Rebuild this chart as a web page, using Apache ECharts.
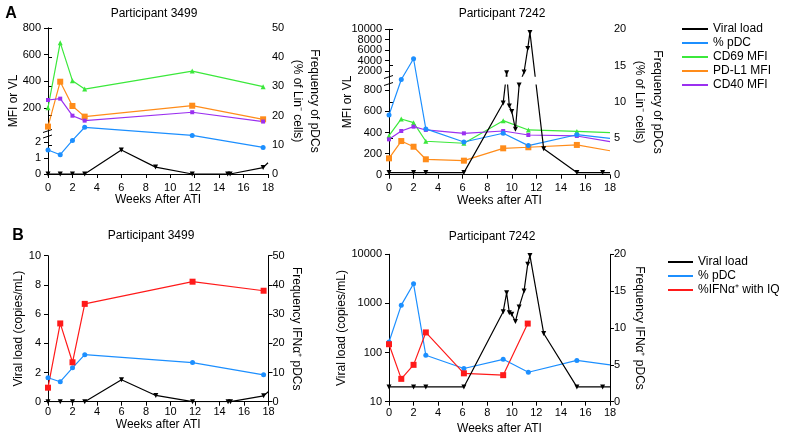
<!DOCTYPE html>
<html><head><meta charset="utf-8">
<script src="https://cdn.jsdelivr.net/npm/echarts@6/dist/echarts.min.js"></script>
<style>html,body{margin:0;padding:0;background:#fff}#c{width:793px;height:444px}</style>
</head><body><div id="c"></div>
<script>
// ---------- DATA ----------
// Panel A, participant 3499
const weeks3499 = [0, 1, 2, 3, 11.8, 17.6];
const pdcA3499 = [8.2, 6.6, 11.5, 16.0, 13.2, 9.1];
const cd69_3499 = [202, 690, 405, 342, 477, 360];
const pdl1_3499 = [60, 397, 215, 135, 217, 115];
const cd40_3499 = [260, 270, 142, 105, 168, 98];
const vlWeeks3499 = [0, 1, 2, 3, 6, 8.8, 11.8, 14.7, 14.9, 17.6, 18];
const vl3499 = [0, 0, 0, 0, 1.5, 0.43, 0, 0, 0, 0.4, 0.7];
// Panel A, participant 7242
const weeks7242 = [0, 1, 2, 3, 6.1, 9.3, 11.35, 15.3, 18];
const pdcA7242 = [8.2, 13.1, 15.95, 6.3, 4.5, 5.7, 4.0, 5.5, 5.0];
const cd69_7242 = [370, 528, 493, 317, 298, 512, 424, 410, 398];
const pdl1_7242 = [155, 319, 265, 146, 133, 250, 260, 282, 227];
const cd40_7242 = [335, 414, 455, 424, 392, 414, 376, 367, 313];
const vlWeeks7242 = [0, 2, 3, 6.1, 9.3, 9.58, 9.8, 10.0, 10.3, 10.6, 11.0, 11.3, 11.48, 12.6, 15.3, 17.4, 18];
const vl7242 = [20, 20, 20, 20, 680, 1650, 650, 600, 430, 850, 1800, 6300, 9400, 245, 20, 20, 20];
// Panel B
const pdcB3499 = [8.2, 6.85, 11.6, 16.1, 13.4, 9.2];
const ifn3499 = [4.8, 26.8, 13.5, 33.5, 41.1, 38.0];
const pdcB7242 = [8.1, 13.1, 16.0, 6.3, 4.5, 5.75, 4.0, 5.6, 5.0];
const weeksIfn7242 = [0, 1, 2, 3, 6.1, 9.3, 11.3];
const ifn7242 = [7.8, 3.1, 5.0, 9.4, 3.85, 3.6, 10.6];
// axis tick labels of the broken axes
const mfiUpperTicks3499 = [200, 400, 600, 800];
const vlLowerTicks3499 = [0, 1, 2];
const vlUpperTicks7242 = [2000, 4000, 6000, 8000, 10000];
const mfiLowerTicks7242 = [0, 200, 400, 600, 800];

// ---------- STYLE ----------
const FONT = '"Liberation Sans", Arial, Helvetica, sans-serif';
const C = {vl:'#000000', pdc:'#1c8fff', cd69:'#3be83b', pdl1:'#ff8c1a', cd40:'#9b30f0', ifn:'#ff1a1a'};
const pts = (xs, ys) => xs.map((x, i) => [x, ys[i]]);

const grids = [
  {left:48, top:28, width:220, height:101.3},   // 0 A3499 upper
  {left:48, top:138, width:220, height:36},     // 1 A3499 lower
  {left:48, top:28, width:220, height:146},     // 2 A3499 full
  {left:389, top:29.3, width:221, height:46.9}, // 3 A7242 upper
  {left:389, top:85, width:221, height:89.7},   // 4 A7242 lower
  {left:389, top:29.3, width:221, height:145.4},// 5 A7242 full
  {left:48, top:255.7, width:220.5, height:146},// 6 B3499
  {left:389, top:254.3, width:221, height:147.4}// 7 B7242
];

const axLine = {show:true, lineStyle:{color:'#000', width:1}};
const nameStyle = {fontSize:12, color:'#000', fontFamily:FONT};
const plain = (v) => String(v);
function xAx(g, show, name, nameGap, margin) {
  return {type:'value', gridIndex:g, min:0, max:18, interval:2, show:show,
    name:name||'', nameLocation:'middle', nameGap:nameGap||0, nameTextStyle:nameStyle,
    axisLine:axLine, axisTick:{show:true, length:4, lineStyle:{color:'#000'}},
    axisLabel:{fontSize:11, color:'#000', margin:margin||8, fontFamily:FONT},
    splitLine:{show:false}};
}
function yAx(g, pos, min, max, opts, custom) {
  const tick = {show:true, length:4, lineStyle:{color:'#000'}};
  const label = {fontSize:11, color:'#000', margin:pos==='left'?7:4, fontFamily:FONT, formatter:plain};
  if (custom) { tick.customValues = custom; label.show = false; }
  return Object.assign({type:'value', gridIndex:g, position:pos, min:min, max:max,
    axisLine:axLine, axisTick:tick, axisLabel:label,
    splitLine:{show:false}, nameLocation:'middle', nameTextStyle:nameStyle}, opts || {});
}

const xAxis = [
  xAx(0, false), xAx(1, false), xAx(2, true, 'Weeks After ATI', 19, 8),
  xAx(3, false), xAx(4, false), xAx(5, true, 'Weeks after ATI', 19, 8),
  xAx(6, true, 'Weeks after ATI', 13, 5), xAx(7, true, 'Weeks after ATI', 21, 6)
];
const yAxis = [
  yAx(0, 'left', 40, 800, null, mfiUpperTicks3499),
  yAx(1, 'left', 0, 2.25, null, vlLowerTicks3499),
  yAx(2, 'right', 0, 50, {interval:10, name:'Frequency of pDCs\n(% of Lin⁻ cells)', nameRotate:-90, nameGap:21, nameTextStyle:Object.assign({lineHeight:17}, nameStyle)}),
  yAx(3, 'left', 1000, 10000, null, vlUpperTicks7242),
  yAx(4, 'left', 0, 850, null, mfiLowerTicks7242),
  yAx(5, 'right', 0, 20, {interval:5, name:'Frequency of pDCs\n(% of Lin⁻ cells)', nameRotate:-90, nameGap:20, nameTextStyle:Object.assign({lineHeight:18}, nameStyle)}),
  yAx(6, 'left', 0, 10, {interval:2, name:'Viral load (copies/mL)', nameRotate:90, nameGap:22}),
  yAx(6, 'right', 0, 50, {interval:10, name:'Frequency IFNα⁺ pDCs', nameRotate:-90, nameGap:22}),
  yAx(7, 'left', 10, 10000, {type:'log', logBase:10, name:'Viral load (copies/mL)', nameRotate:90, nameGap:36}),
  yAx(7, 'right', 0, 20, {interval:5, name:'Frequency IFNα⁺ pDCs', nameRotate:-90, nameGap:23})
];

function ser(name, data, xi, yi, color, symbol, size, rotate, z) {
  return {type:'line', name:name, data:data, xAxisIndex:xi, yAxisIndex:yi,
    symbol:symbol, symbolSize:(v) => v[0] >= 18 ? 0 : size, symbolRotate:rotate || 0,
    lineStyle:{width:1.2, color:color}, itemStyle:{color:color}, color:color,
    animation:false, z:z || 2, emphasis:{disabled:true}};
}
const series = [
  // A 3499
  ser('CD69 MFI', pts(weeks3499, cd69_3499), 0, 0, C.cd69, 'triangle', 5),
  ser('PD-L1 MFI', pts(weeks3499, pdl1_3499), 0, 0, C.pdl1, 'rect', 6),
  ser('CD40 MFI', pts(weeks3499, cd40_3499), 0, 0, C.cd40, 'rect', 4),
  ser('% pDC', pts(weeks3499, pdcA3499), 2, 2, C.pdc, 'circle', 5),
  ser('Viral load', pts(vlWeeks3499, vl3499), 1, 1, C.vl, 'triangle', 5, 180, 3),
  // A 7242
  ser('CD69 MFI', pts(weeks7242, cd69_7242), 4, 4, C.cd69, 'triangle', 5),
  ser('PD-L1 MFI', pts(weeks7242, pdl1_7242), 4, 4, C.pdl1, 'rect', 6),
  ser('CD40 MFI', pts(weeks7242, cd40_7242), 4, 4, C.cd40, 'rect', 4),
  ser('% pDC', pts(weeks7242, pdcA7242), 5, 5, C.pdc, 'circle', 5),
  // B 3499
  ser('% pDC', pts(weeks3499, pdcB3499), 6, 7, C.pdc, 'circle', 5),
  ser('%IFNα⁺ with IQ', pts(weeks3499, ifn3499), 6, 7, C.ifn, 'rect', 6),
  ser('Viral load', pts(vlWeeks3499, vl3499), 6, 6, C.vl, 'triangle', 5, 180, 3),
  // B 7242
  ser('% pDC', pts(weeks7242, pdcB7242), 7, 9, C.pdc, 'circle', 5),
  ser('%IFNα⁺ with IQ', pts(weeksIfn7242, ifn7242), 7, 9, C.ifn, 'rect', 6),
  ser('Viral load', pts(vlWeeks7242, vl7242), 7, 8, C.vl, 'triangle', 5, 180, 3)
];

const legendBase = {orient:'vertical', icon:'rect', itemHeight:2, itemGap:2, padding:0,
  selectedMode:false, textStyle:{fontSize:12, color:'#000', fontFamily:FONT}};
const legend = [
  Object.assign({}, legendBase, {data:['Viral load', '% pDC', 'CD69 MFI', 'PD-L1 MFI', 'CD40 MFI'], left:682, top:23, itemWidth:26}),
  Object.assign({}, legendBase, {data:['Viral load', '% pDC', '%IFNα⁺ with IQ'], left:668, top:256, itemWidth:25})
];

function txt(x, y, s, size, bold, align, rot) {
  return {type:'text', x:x, y:y, z:100, rotation:rot || 0, silent:true, style:{text:s, fill:'#000', align:align || 'center', verticalAlign:'middle',
    fontSize:size, fontWeight:bold ? 'bold' : 'normal', fontFamily:FONT}};
}
function brk(x, y) {
  return {type:'line', silent:true, shape:{x1:x - 5, y1:y + 1.5, x2:x + 4, y2:y - 1.5}, style:{stroke:'#000', lineWidth:1}};
}
const graphic = [
  txt(11, 14, 'A', 16, true), txt(18, 236, 'B', 16, true),
  txt(154, 14, 'Participant 3499', 12), txt(502, 14, 'Participant 7242', 12),
  txt(151, 236, 'Participant 3499', 12), txt(492, 237, 'Participant 7242', 12),
  brk(48, 131), brk(48, 136.5), brk(389, 77), brk(389, 84)
];

const chart = echarts.init(document.getElementById('c'), null, {renderer:'canvas'});
chart.setOption({animation:false, backgroundColor:'#fff', grid:grids, xAxis:xAxis, yAxis:yAxis,
  series:series, legend:legend, graphic:graphic});

// Tick labels of the broken axes: one evenly spaced text column per axis segment,
// with its position and line spacing taken from the axis' own scale.
[[0, 0, mfiUpperTicks3499], [1, 1, vlLowerTicks3499], [3, 3, vlUpperTicks7242], [4, 4, mfiLowerTicks7242]]
  .forEach(([xi, yi, ticks]) => {
    const desc = ticks.slice().sort((a, b) => b - a);
    const p0 = chart.convertToPixel({xAxisIndex:xi, yAxisIndex:yi}, [0, desc[0]]);
    const p1 = chart.convertToPixel({xAxisIndex:xi, yAxisIndex:yi}, [0, desc[1]]);
    const step = p1[1] - p0[1];
    graphic.push({type:'text', x:p0[0] - 7, y:p0[1] - step / 2, z:100, zlevel:1, silent:true,
      style:{text:desc.map(String).join('\n'), fill:'#000', align:'right', verticalAlign:'top',
        lineHeight:step, fontSize:11, fontFamily:FONT}});
  });
// Left titles of the broken axes, centred on the whole panel height
[[2, 2, 'MFI or VL', 14], [5, 5, 'MFI or VL', 348]].forEach(([xi, yi, s, x]) => {
  const mid = chart.convertToPixel({xAxisIndex:xi, yAxisIndex:yi}, [0, yAxis[yi].max / 2]);
  graphic.push(txt(x, mid[1], s, 12, false, 'center', Math.PI / 2));
});

// Broken axis (panel A, 7242): each viral-load point is placed in the segment that holds its value,
// then re-expressed in the other segment's scale so that the line is straight across the break.
const UP = {xAxisIndex:3, yAxisIndex:3}, LO = {xAxisIndex:4, yAxisIndex:4};
const upperMin = yAxis[3].min;
const vlPixels = pts(vlWeeks7242, vl7242).map(p => chart.convertToPixel(p[1] >= upperMin ? UP : LO, p));
const vlUpper = vlPixels.map((px, i) => [vlWeeks7242[i], chart.convertFromPixel(UP, px)[1]]);
const vlLower = vlPixels.map((px, i) => [vlWeeks7242[i], chart.convertFromPixel(LO, px)[1]]);
series.push(ser('Viral load', vlUpper, 3, 3, C.vl, 'triangle', 5, 180, 3));
series.push(ser('Viral load', vlLower, 4, 4, C.vl, 'triangle', 5, 180, 3));
chart.setOption({series:series, graphic:graphic});
</script></body></html>
